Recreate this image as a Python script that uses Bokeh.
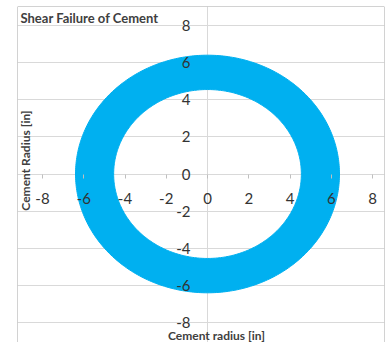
import numpy as np
from bokeh.plotting import figure
from bokeh.models import Range1d, FixedTicker, Label, Span
from bokeh.embed import file_html
from bokeh.resources import INLINE

# ---- data ----
title_text = "Shear Failure of Cement"
x_title = "Cement radius [in]"
y_title = "Cement Radius [in]"
x_ticks = [-8, -6, -4, -2, 0, 2, 4, 6, 8]
y_ticks = [-8, -6, -4, -2, 0, 2, 4, 6, 8]
x_tick_labels = ["-8", "-6", "-4", "-2", "0", "2", "4", "6", "8"]
y_tick_labels = ["-8", "-6", "-4", "-2", "0", "2", "4", "6", "8"]
center_x = [0.0]
center_y = [0.0]
inner_radius = [4.55]
outer_radius = [6.4]

# ---- layout (pixels) ----
W, H = 385, 342
FL, FR, FT, FB = 17, 384, 6, 342          # chart-area border (frame)
PX_L, PX_R, PY_T, PY_B = 42, 372, 25, 322  # where -8..8 sit
sx = (PX_R - PX_L) / 16.0
sy = (PY_B - PY_T) / 16.0
x_start = -8 - (PX_L - FL) / sx
x_end = 8 + (FR - PX_R) / sx
y_end = 8 + (PY_T - FT) / sy
y_start = -8 - (FB - PY_B) / sy

def px2x(px):
    return x_start + (px - FL) / sx

def py2y(py):
    return y_end - (py - FT) / sy

p = figure(width=W, height=H, output_backend="svg", toolbar_location=None,
           x_range=Range1d(x_start, x_end), y_range=Range1d(y_start, y_end),
           min_border_left=FL, min_border_right=W - FR, min_border_top=FT,
           min_border_bottom=H - FB, background_fill_color="white",
           border_fill_color="white", outline_line_color=None)

# ring
theta = np.linspace(0, 2 * np.pi, 361)
xs, ys = [], []
for cx, cy, ri, ro in zip(center_x, center_y, inner_radius, outer_radius):
    ox = list(cx + ro * np.cos(theta)); oy = list(cy + ro * np.sin(theta))
    ix = list(cx + ri * np.cos(theta[::-1])); iy = list(cy + ri * np.sin(theta[::-1]))
    xs.append([[ox, ix]]); ys.append([[oy, iy]])
p.multi_polygons(xs=xs, ys=ys, fill_color="#00B0F0", line_color="#00B0F0", line_width=1)

grid_col = "#d9d9d9"
p.ygrid.ticker = FixedTicker(ticks=y_ticks)
p.ygrid.grid_line_color = grid_col
p.ygrid.bounds = (-8, 8)
p.xgrid.ticker = FixedTicker(ticks=[0])
p.xgrid.grid_line_color = grid_col
p.xgrid.bounds = (-8, 8)

lab_font = "Lato"
lab_col = "#333333"
xa = p.xaxis[0]
xa.fixed_location = 0
xa.bounds = (-8, 8)
xa.ticker = FixedTicker(ticks=x_ticks)
xa.major_label_overrides = {t: s for t, s in zip(x_ticks, x_tick_labels)}
xa.axis_line_color = None
xa.major_tick_in = 0
xa.major_tick_out = 4
xa.major_tick_line_color = "#bfbfbf"
xa.minor_tick_line_color = None
xa.major_label_standoff = 15
xa.major_label_text_font = lab_font
xa.major_label_text_font_size = "15px"
xa.major_label_text_color = lab_col

ya = p.yaxis[0]
ya.fixed_location = 0
ya.bounds = (-8, 8)
ya.ticker = FixedTicker(ticks=y_ticks)
ya.major_label_overrides = {t: s for t, s in zip(y_ticks, y_tick_labels)}
ya.axis_line_color = None
ya.major_tick_in = 0
ya.major_tick_out = 0
ya.minor_tick_line_color = None
ya.major_label_standoff = 17
ya.major_label_text_font = lab_font
ya.major_label_text_font_size = "15px"
ya.major_label_text_color = lab_col

# chart-area border (left, right, top)
border_col = "#a6a6a6"
p.add_layout(Span(location=x_start, dimension="height", line_color=border_col, line_width=1))
p.add_layout(Span(location=x_end, dimension="height", line_color=border_col, line_width=1))
p.add_layout(Span(location=y_end, dimension="width", line_color=border_col, line_width=1))

p.add_layout(Label(x=px2x(20), y=py2y(17), text=title_text, text_font=lab_font,
                   text_font_style="bold", text_font_size="13px", text_color="#404040",
                   text_align="left", text_baseline="middle"))
p.add_layout(Label(x=px2x(216), y=py2y(335), text=x_title, text_font=lab_font,
                   text_font_style="bold", text_font_size="12px", text_color="#404040",
                   text_align="center", text_baseline="middle"))
p.add_layout(Label(x=px2x(25), y=py2y(160), text=y_title, text_font=lab_font,
                   text_font_style="bold", text_font_size="12px", text_color="#404040",
                   text_align="center", text_baseline="middle", angle=np.pi / 2))

open("out.html", "w").write(file_html(p, INLINE))
